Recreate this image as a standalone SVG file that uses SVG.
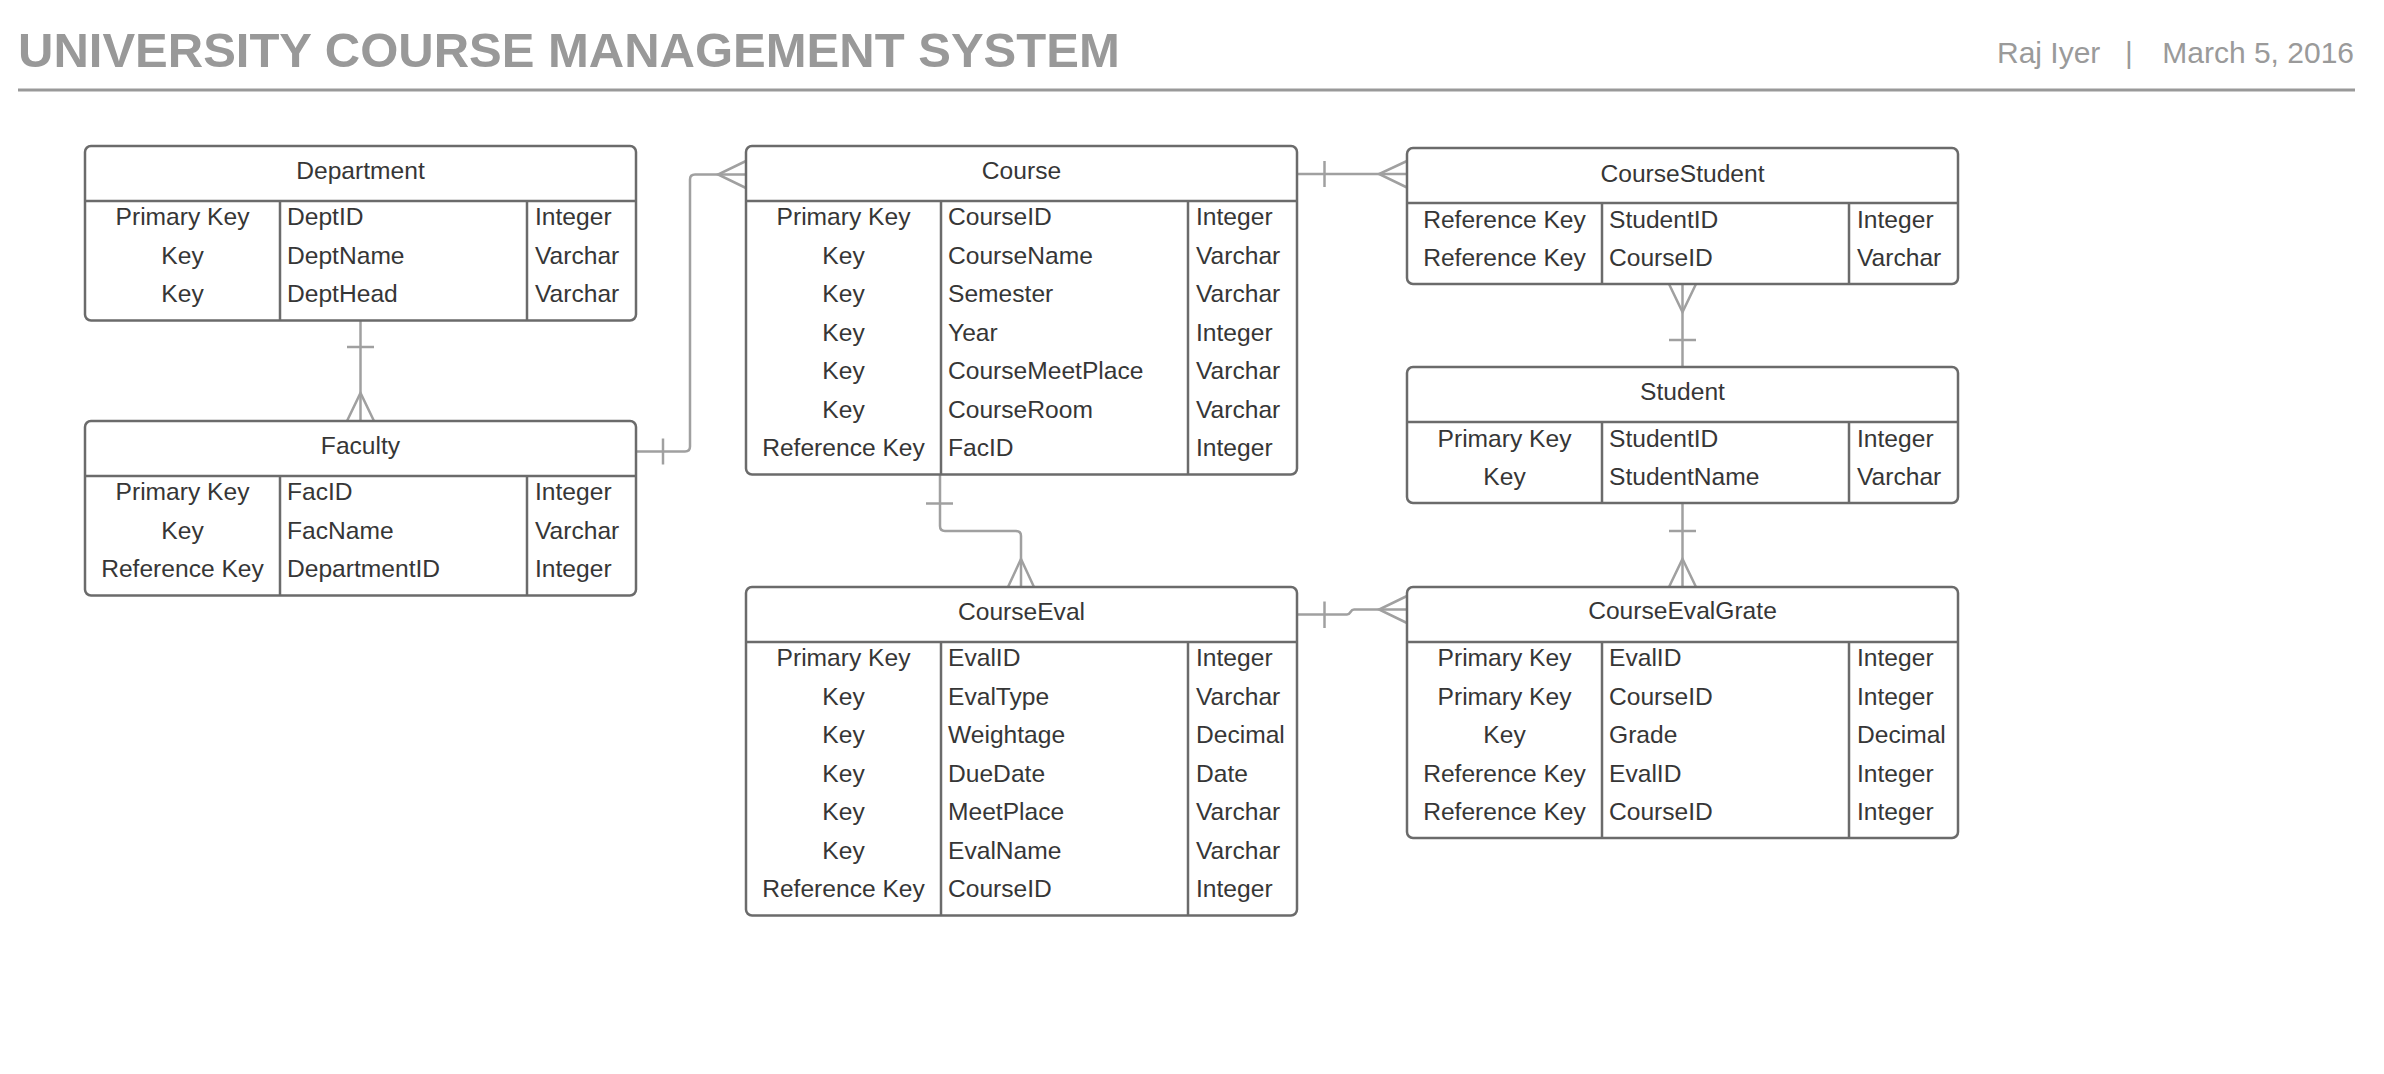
<svg xmlns="http://www.w3.org/2000/svg" width="2384" height="1074" viewBox="0 0 2384 1074">
<style>
.hdr{font-family:"Liberation Sans",Arial,sans-serif;font-size:49px;font-weight:bold;fill:#999999}
.meta{font-family:"Liberation Sans",Arial,sans-serif;font-size:30px;fill:#9a9a9a}
.box{fill:#ffffff;stroke:#6b6b6b;stroke-width:2.5}
.sep{stroke:#6b6b6b;stroke-width:2.5;fill:none}
.t{font-family:"Liberation Sans",Arial,sans-serif;font-size:24.6px;fill:#363636}
.c{text-anchor:middle}
.conn path{fill:none;stroke:#a0a0a0;stroke-width:2.5}
</style>
<rect width="2384" height="1074" fill="#ffffff"/>
<g id="header">
<text class="hdr" x="18" y="67">UNIVERSITY COURSE MANAGEMENT SYSTEM</text>
<text class="meta" x="1997" y="63">Raj Iyer</text>
<text class="meta" x="2129" y="63" text-anchor="middle">|</text>
<text class="meta" x="2354" y="63" text-anchor="end">March 5, 2016</text>
<line x1="18" y1="90" x2="2355" y2="90" stroke="#999999" stroke-width="3"/>
</g>

<g class="conn" id="connectors">
<path d="M360.5,320 V421"/>
<path d="M347,347 H374"/>
<path d="M347,421 L360.5,393 L374,421"/>

<path d="M636,451.5 H685 Q690,451.5 690,446.5 V179.5 Q690,174.5 695,174.5 H746"/>
<path d="M663,438.5 V464.5"/>
<path d="M746,161 L718,174.5 L746,188"/>

<path d="M1297,174 H1407"/>
<path d="M1324.5,161 V187"/>
<path d="M1407,161 L1379,174 L1407,187.5"/>

<path d="M1682.5,284 V367"/>
<path d="M1669,284 L1682.5,312 L1696,284"/>
<path d="M1669,340 H1696"/>

<path d="M1682.5,503 V587"/>
<path d="M1669,531 H1696"/>
<path d="M1669,587 L1682.5,559 L1696,587"/>

<path d="M940,475 V526 Q940,531 945,531 H1016 Q1021,531 1021,536 V587"/>
<path d="M926,503.5 H953"/>
<path d="M1008,587 L1021,559 L1034,587"/>

<path d="M1297,614.5 H1347 C1351,614.5 1350,609.5 1354,609.5 H1407"/>
<path d="M1324.5,601.5 V628"/>
<path d="M1407,596 L1379,609.5 L1407,623"/>
</g>

<g id="department">
<rect class="box" x="85" y="146" width="551" height="174.5" rx="6"/>
<path class="sep" d="M85,201 H636 M280,201 V320.5 M527,201 V320.5"/>
<text class="t c" x="360.5" y="179">Department</text>
<text class="t c" x="182.5" y="225">Primary Key</text><text class="t" x="287" y="225">DeptID</text><text class="t" x="535" y="225">Integer</text>
<text class="t c" x="182.5" y="263.5">Key</text><text class="t" x="287" y="263.5">DeptName</text><text class="t" x="535" y="263.5">Varchar</text>
<text class="t c" x="182.5" y="302">Key</text><text class="t" x="287" y="302">DeptHead</text><text class="t" x="535" y="302">Varchar</text>
</g>

<g id="faculty">
<rect class="box" x="85" y="421" width="551" height="174.5" rx="6"/>
<path class="sep" d="M85,476 H636 M280,476 V595.5 M527,476 V595.5"/>
<text class="t c" x="360.5" y="454">Faculty</text>
<text class="t c" x="182.5" y="500">Primary Key</text><text class="t" x="287" y="500">FacID</text><text class="t" x="535" y="500">Integer</text>
<text class="t c" x="182.5" y="538.5">Key</text><text class="t" x="287" y="538.5">FacName</text><text class="t" x="535" y="538.5">Varchar</text>
<text class="t c" x="182.5" y="577">Reference Key</text><text class="t" x="287" y="577">DepartmentID</text><text class="t" x="535" y="577">Integer</text>
</g>

<g id="course">
<rect class="box" x="746" y="146" width="551" height="328.5" rx="6"/>
<path class="sep" d="M746,201 H1297 M941,201 V474.5 M1188,201 V474.5"/>
<text class="t c" x="1021.5" y="179">Course</text>
<text class="t c" x="843.5" y="225">Primary Key</text><text class="t" x="948" y="225">CourseID</text><text class="t" x="1196" y="225">Integer</text>
<text class="t c" x="843.5" y="263.5">Key</text><text class="t" x="948" y="263.5">CourseName</text><text class="t" x="1196" y="263.5">Varchar</text>
<text class="t c" x="843.5" y="302">Key</text><text class="t" x="948" y="302">Semester</text><text class="t" x="1196" y="302">Varchar</text>
<text class="t c" x="843.5" y="340.5">Key</text><text class="t" x="948" y="340.5">Year</text><text class="t" x="1196" y="340.5">Integer</text>
<text class="t c" x="843.5" y="379">Key</text><text class="t" x="948" y="379">CourseMeetPlace</text><text class="t" x="1196" y="379">Varchar</text>
<text class="t c" x="843.5" y="417.5">Key</text><text class="t" x="948" y="417.5">CourseRoom</text><text class="t" x="1196" y="417.5">Varchar</text>
<text class="t c" x="843.5" y="456">Reference Key</text><text class="t" x="948" y="456">FacID</text><text class="t" x="1196" y="456">Integer</text>
</g>

<g id="courseeval">
<rect class="box" x="746" y="587" width="551" height="328.5" rx="6"/>
<path class="sep" d="M746,642 H1297 M941,642 V915.5 M1188,642 V915.5"/>
<text class="t c" x="1021.5" y="620">CourseEval</text>
<text class="t c" x="843.5" y="666">Primary Key</text><text class="t" x="948" y="666">EvalID</text><text class="t" x="1196" y="666">Integer</text>
<text class="t c" x="843.5" y="704.5">Key</text><text class="t" x="948" y="704.5">EvalType</text><text class="t" x="1196" y="704.5">Varchar</text>
<text class="t c" x="843.5" y="743">Key</text><text class="t" x="948" y="743">Weightage</text><text class="t" x="1196" y="743">Decimal</text>
<text class="t c" x="843.5" y="781.5">Key</text><text class="t" x="948" y="781.5">DueDate</text><text class="t" x="1196" y="781.5">Date</text>
<text class="t c" x="843.5" y="820">Key</text><text class="t" x="948" y="820">MeetPlace</text><text class="t" x="1196" y="820">Varchar</text>
<text class="t c" x="843.5" y="858.5">Key</text><text class="t" x="948" y="858.5">EvalName</text><text class="t" x="1196" y="858.5">Varchar</text>
<text class="t c" x="843.5" y="897">Reference Key</text><text class="t" x="948" y="897">CourseID</text><text class="t" x="1196" y="897">Integer</text>
</g>

<g id="coursestudent">
<rect class="box" x="1407" y="148" width="551" height="136" rx="6"/>
<path class="sep" d="M1407,203 H1958 M1602,203 V284 M1849,203 V284"/>
<text class="t c" x="1682.5" y="182">CourseStudent</text>
<text class="t c" x="1504.5" y="227.5">Reference Key</text><text class="t" x="1609" y="227.5">StudentID</text><text class="t" x="1857" y="227.5">Integer</text>
<text class="t c" x="1504.5" y="266">Reference Key</text><text class="t" x="1609" y="266">CourseID</text><text class="t" x="1857" y="266">Varchar</text>
</g>

<g id="student">
<rect class="box" x="1407" y="367" width="551" height="136" rx="6"/>
<path class="sep" d="M1407,422 H1958 M1602,422 V503 M1849,422 V503"/>
<text class="t c" x="1682.5" y="400">Student</text>
<text class="t c" x="1504.5" y="446.5">Primary Key</text><text class="t" x="1609" y="446.5">StudentID</text><text class="t" x="1857" y="446.5">Integer</text>
<text class="t c" x="1504.5" y="485">Key</text><text class="t" x="1609" y="485">StudentName</text><text class="t" x="1857" y="485">Varchar</text>
</g>

<g id="courseevalgrate">
<rect class="box" x="1407" y="587" width="551" height="251" rx="6"/>
<path class="sep" d="M1407,642 H1958 M1602,642 V838 M1849,642 V838"/>
<text class="t c" x="1682.5" y="619">CourseEvalGrate</text>
<text class="t c" x="1504.5" y="666">Primary Key</text><text class="t" x="1609" y="666">EvalID</text><text class="t" x="1857" y="666">Integer</text>
<text class="t c" x="1504.5" y="704.5">Primary Key</text><text class="t" x="1609" y="704.5">CourseID</text><text class="t" x="1857" y="704.5">Integer</text>
<text class="t c" x="1504.5" y="743">Key</text><text class="t" x="1609" y="743">Grade</text><text class="t" x="1857" y="743">Decimal</text>
<text class="t c" x="1504.5" y="781.5">Reference Key</text><text class="t" x="1609" y="781.5">EvalID</text><text class="t" x="1857" y="781.5">Integer</text>
<text class="t c" x="1504.5" y="820">Reference Key</text><text class="t" x="1609" y="820">CourseID</text><text class="t" x="1857" y="820">Integer</text>
</g>
</svg>
